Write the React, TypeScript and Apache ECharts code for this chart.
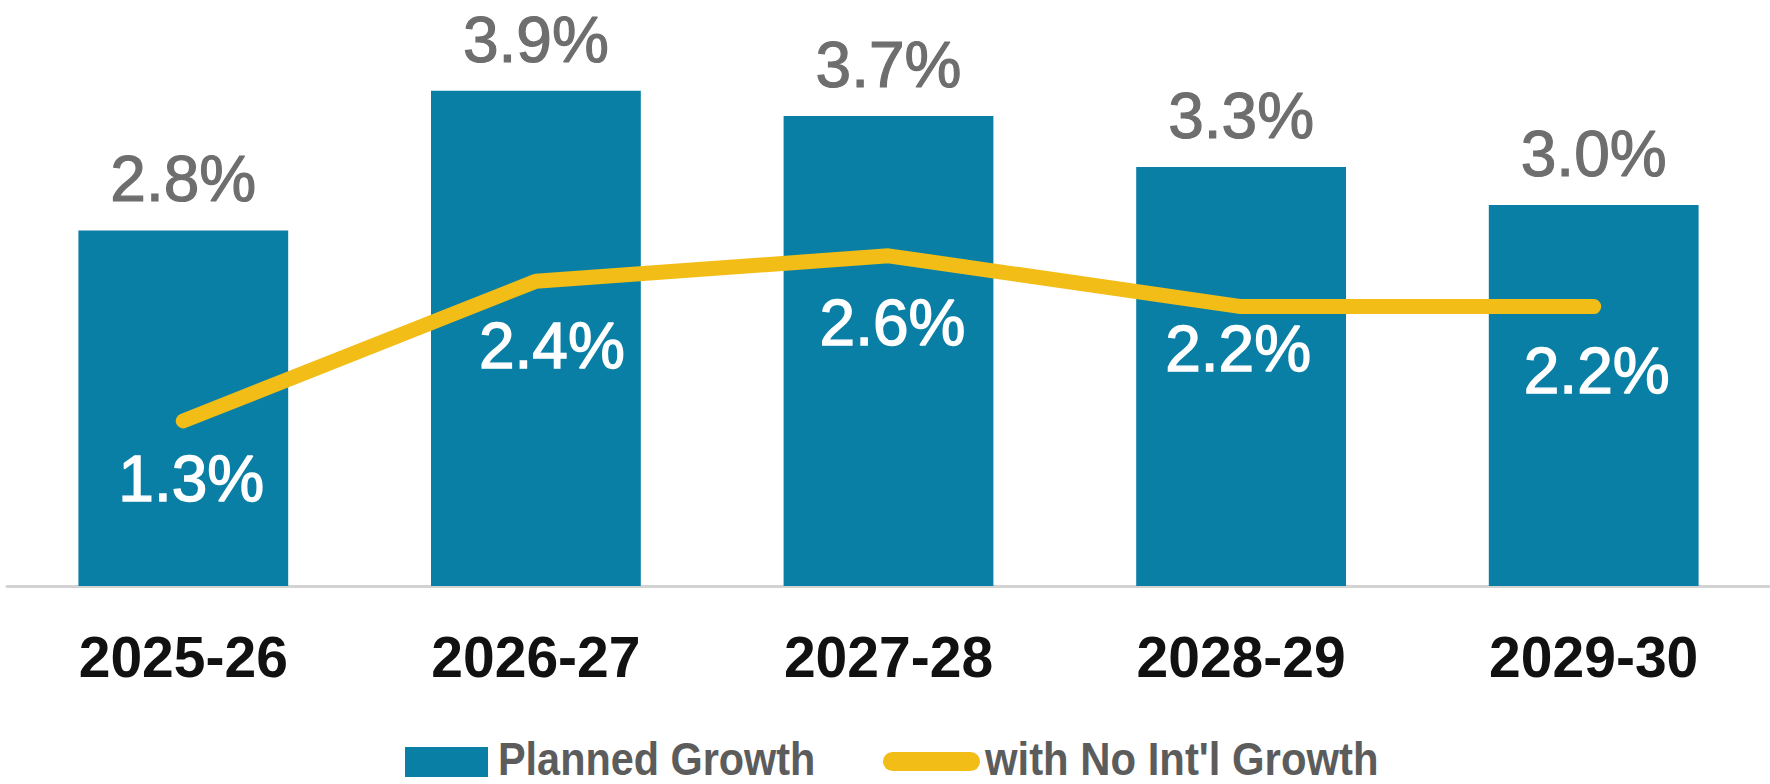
import React, { useEffect, useRef } from "react";
import * as echarts from "echarts";

const categories = ["2025-26", "2026-27", "2027-28", "2028-29", "2029-30"];
const plannedGrowth = [2.8, 3.9, 3.7, 3.3, 3.0];
const noIntlGrowth = [1.3, 2.4, 2.6, 2.2, 2.2];
const seriesNames = ["Planned Growth", "with No Int'l Growth"];

// label placement tweaks for the line labels (style, not data)
const lineLabelOffsets: [number, number][] = [
  [8, 26],
  [16, 32],
  [4, 35],
  [-3, 10],
  [3, 32],
];

const BLUE = "#0a7fa6";
const YELLOW = "#f2bd16";
const FONT = "'Liberation Sans', Arial, Helvetica, sans-serif";

export default function App() {
  const ref = useRef<HTMLDivElement>(null);
  useEffect(() => {
    document.body.style.margin = "0";
    if (!ref.current) return;
    const chart = echarts.init(ref.current, undefined, { renderer: "svg" });
    const option: any = {
      animation: false,
      backgroundColor: "#ffffff",
      grid: { left: 7, right: 0, top: 78, bottom: 198, containLabel: false },
      xAxis: {
        type: "category",
        data: categories,
        axisLine: { show: true, lineStyle: { color: "#d3d3d3", width: 3 } },
        axisTick: { show: false },
        axisLabel: {
          color: "#111111",
          fontFamily: FONT,
          fontWeight: "bold",
          fontSize: 57,
          lineHeight: 57,
          margin: 42,
        },
      },
      yAxis: {
        type: "value",
        min: 0,
        max: 4,
        show: false,
        splitLine: { show: false },
      },
      series: [
        {
          name: seriesNames[0],
          type: "bar",
          data: plannedGrowth,
          barCategoryGap: "40.5%",
          itemStyle: { color: BLUE },
          label: {
            show: true,
            position: "top",
            distance: 19,
            color: "#6e6e6e",
            textBorderColor: "#6e6e6e",
            textBorderWidth: 1.2,
            fontFamily: FONT,
            fontSize: 64,
            lineHeight: 64,
            formatter: (p: any) => `${Number(p.value).toFixed(1)}%`,
          },
          z: 2,
        },
        {
          name: seriesNames[1],
          type: "line",
          data: noIntlGrowth.map((v, i) => ({
            value: v,
            label: { offset: lineLabelOffsets[i] },
          })),
          showSymbol: true,
          symbol: "circle",
          symbolSize: 1,
          lineStyle: { color: YELLOW, width: 15, cap: "round", join: "round" },
          itemStyle: { color: YELLOW },
          label: {
            show: true,
            position: "bottom",
            distance: 0,
            color: "#ffffff",
            textBorderColor: "#ffffff",
            textBorderWidth: 1.4,
            fontFamily: FONT,
            fontSize: 64,
            lineHeight: 64,
            formatter: (p: any) => `${Number(p.value).toFixed(1)}%`,
          },
          z: 3,
        },
      ],
      graphic: [
        {
          type: "rect",
          shape: { x: 405, y: 747, width: 83, height: 30 },
          style: { fill: BLUE },
        },
        {
          type: "text",
          x: 498,
          y: 758.5,
          scaleX: 0.9,
          style: {
            text: seriesNames[0],
            fill: "#5c5c5c",
            font: `bold 46px ${FONT}`,
            lineHeight: 38,
            textAlign: "left",
            textVerticalAlign: "middle",
          },
        },
        {
          type: "line",
          shape: { x1: 892.5, y1: 761.5, x2: 970.5, y2: 761.5 },
          style: { stroke: YELLOW, lineWidth: 19, lineCap: "round" },
        },
        {
          type: "text",
          x: 985,
          y: 758.5,
          scaleX: 0.91,
          style: {
            text: seriesNames[1],
            fill: "#5c5c5c",
            font: `bold 46px ${FONT}`,
            lineHeight: 38,
            textAlign: "left",
            textVerticalAlign: "middle",
          },
        },
      ],
    };
    chart.setOption(option);
    return () => chart.dispose();
  }, []);
  return <div ref={ref} style={{ width: 1770, height: 784 }} />;
}
